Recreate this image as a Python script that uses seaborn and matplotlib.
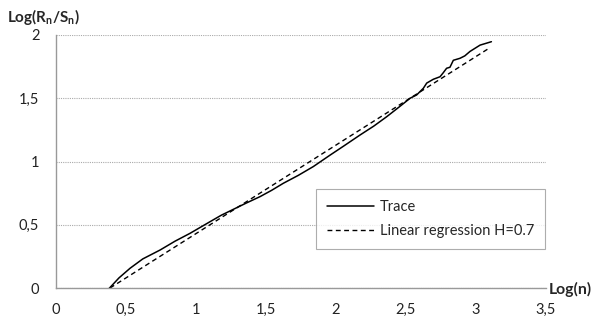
import matplotlib
matplotlib.use("Agg")
import matplotlib.pyplot as plt
import seaborn as sns
import pandas as pd
import numpy as np
from matplotlib.ticker import FuncFormatter

trace_x = [0.374, 0.45, 0.529, 0.62, 0.743, 0.85, 0.957, 1.1, 1.18, 1.267, 1.36, 1.457,
           1.54, 1.624, 1.73, 1.838, 1.957, 2.052, 2.171, 2.27, 2.362, 2.45, 2.529, 2.576,
           2.624, 2.648, 2.695, 2.743, 2.765, 2.79, 2.814, 2.838, 2.886, 2.92, 2.957, 3.029, 3.11]
trace_y = [-0.01, 0.08, 0.156, 0.23, 0.30, 0.37, 0.432, 0.524, 0.575, 0.622, 0.672, 0.722,
           0.772, 0.828, 0.89, 0.96, 1.05, 1.12, 1.209, 1.28, 1.354, 1.43, 1.50, 1.526,
           1.579, 1.62, 1.65, 1.67, 1.70, 1.737, 1.745, 1.80, 1.816, 1.835, 1.87, 1.92, 1.947]
reg_x = [0.386, 3.10]
reg_y = [0.0, 1.90]

x_ticks = [0, 0.5, 1, 1.5, 2, 2.5, 3, 3.5]
y_ticks = [0, 0.5, 1, 1.5, 2]

sns.set_style("white")
plt.rcParams['font.family'] = ['Lato', 'DejaVu Sans']

fig = plt.figure(figsize=(6.03, 3.25), dpi=100)
ax = fig.add_axes([56/603, 1-288/325, (546-56)/603, (288-35)/325])

df_t = pd.DataFrame({"x": trace_x, "y": trace_y})
df_r = pd.DataFrame({"x": reg_x, "y": reg_y})
sns.lineplot(data=df_t, x="x", y="y", ax=ax, color="black", lw=1.1, label="Trace",
             estimator=None, sort=False)
sns.lineplot(data=df_r, x="x", y="y", ax=ax, color="black", lw=1.0, label="Linear regression H=0.7",
             linestyle=(0, (3.5, 2.5)), estimator=None)

ax.set_xlim(0, 3.5)
ax.set_ylim(0, 2)
ax.set_xticks(x_ticks)
ax.set_yticks(y_ticks)
fmt = FuncFormatter(lambda v, p: (f"{v:g}").replace(".", ","))
ax.xaxis.set_major_formatter(fmt)
ax.yaxis.set_major_formatter(fmt)
ax.tick_params(axis='both', labelsize=10.5, colors='#222222', length=4, width=0.8,
               direction='out', color='#999999')
ax.tick_params(axis='x', pad=7)
ax.tick_params(axis='y', pad=8)
ax.yaxis.grid(True, color='#aaaaaa', linestyle=(0, (1, 1)), lw=0.8)
ax.xaxis.grid(False)
for s in ['top', 'right']:
    ax.spines[s].set_visible(False)
for s in ['left', 'bottom']:
    ax.spines[s].set_color('#999999')
    ax.spines[s].set_linewidth(1.0)
ax.set_xlabel("")
ax.set_ylabel("")
ax.set_axisbelow(True)

fig.text(7/603, 1-17/325, r"Log(R$_\mathregular{n}$/S$_\mathregular{n}$)", fontsize=11,
         fontweight='bold', va='center', ha='left')
fig.text(549/603, 1-289/325, "Log(n)", fontsize=11.3, fontweight='bold', va='center', ha='left')

leg = ax.legend(loc='upper left', bbox_to_anchor=((316-56)/490, (288-189)/253),
                borderaxespad=0, frameon=True, fancybox=False, fontsize=10.5,
                handlelength=3.2, borderpad=0.75, labelspacing=0.72, handletextpad=0.45)
leg.get_frame().set_edgecolor('#999999')
leg.get_frame().set_linewidth(0.8)

fig.savefig("out.png", dpi=100)
